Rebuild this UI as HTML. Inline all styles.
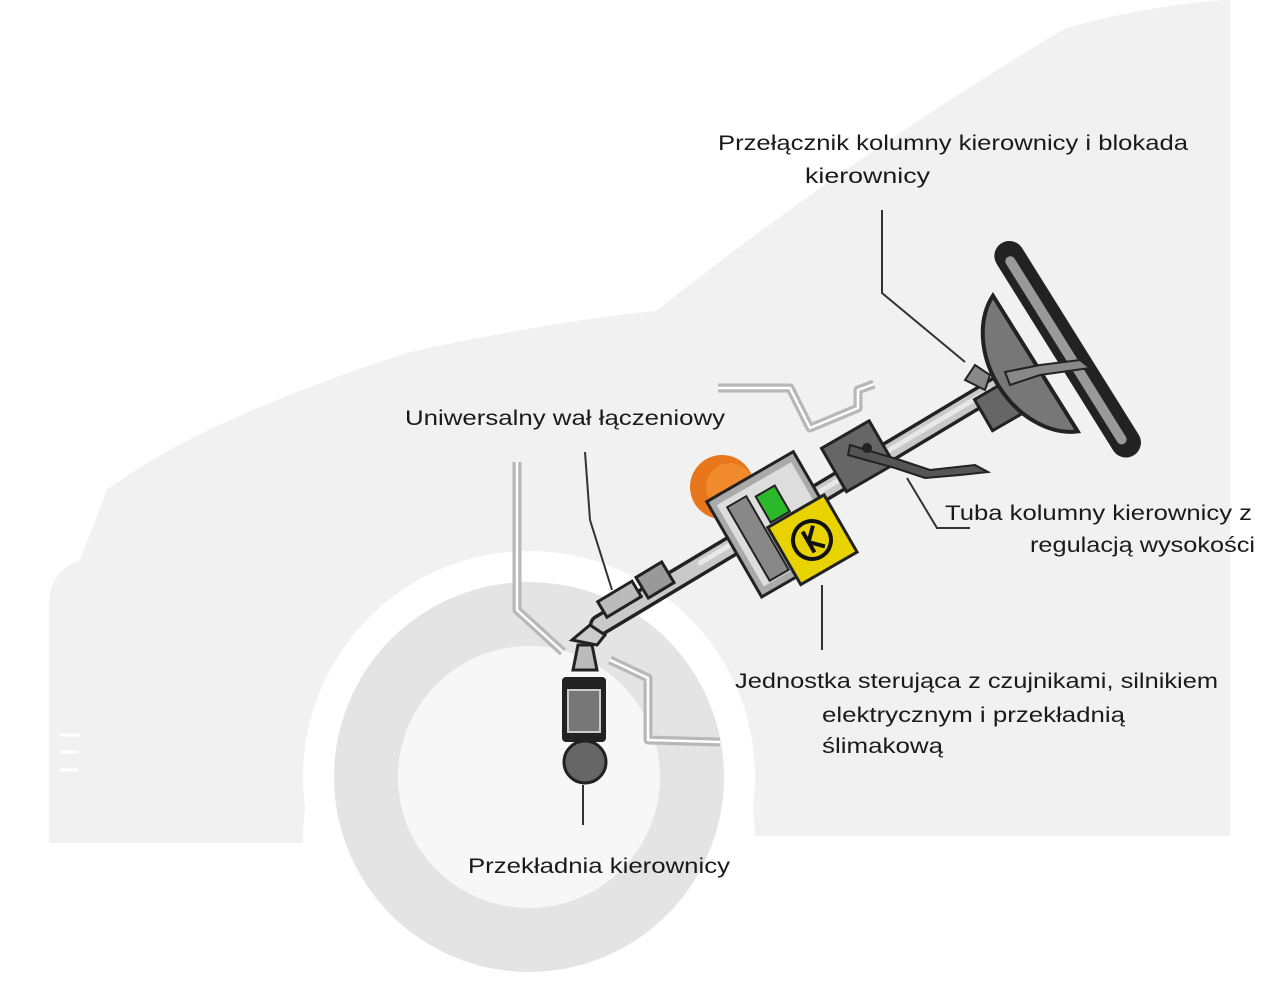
<!DOCTYPE html>
<html><head><meta charset="utf-8"><style>
html,body{margin:0;padding:0;background:#fff;}
svg{display:block}
text{font-family:"Liberation Sans",sans-serif;font-size:21px;fill:#1a1a1a;}
</style></head><body>
<svg width="1280" height="988" viewBox="0 0 1280 988" xmlns="http://www.w3.org/2000/svg">
<path d="M1225 0 L1230 0 L1230 836 L755 836 A226 226 0 0 0 303 843 L49 843 L49 600 Q52 570 80 560 L107 490 Q200 420 410 352 Q560 320 656 311 Q860 150 1066 28 Q1150 5 1225 0 Z" fill="#f1f1f1"/>
<circle cx="529" cy="777" r="226" fill="#fff"/>
<circle cx="529" cy="777" r="195" fill="#e4e4e4"/>
<circle cx="529" cy="777" r="131" fill="#f7f7f7"/>
<g stroke="#fff" stroke-width="3"><line x1="60" y1="735" x2="80" y2="735"/><line x1="60" y1="752" x2="78" y2="752"/><line x1="60" y1="770" x2="78" y2="770"/></g>
<g fill="none" stroke="#b8b8b8" stroke-width="9" stroke-linejoin="round">
<path d="M517 462 L517 610 L563 652"/>
<path d="M610 660 L648 678 L648 740 L720 742"/>
<path d="M718 388 L790 388 L810 428 L858 408 L858 390 L874 384"/>
</g>
<g fill="none" stroke="#fff" stroke-width="2.5" stroke-linejoin="round">
<path d="M517 462 L517 610 L563 652"/>
<path d="M610 660 L648 678 L648 740 L720 742"/>
<path d="M718 388 L790 388 L810 428 L858 408 L858 390 L874 384"/>
</g>
<g stroke="#222" stroke-width="3" stroke-linecap="round">
<line x1="600" y1="625" x2="1000" y2="385" stroke-width="22"/>
<line x1="600" y1="625" x2="1000" y2="385" stroke="#c9c9c9" stroke-width="15"/>
<line x1="700" y1="563" x2="990" y2="390" stroke="#e8e8e8" stroke-width="5"/>
</g>
<g transform="rotate(-31 620 600)">
<rect x="600" y="590" width="40" height="18" fill="#bbb" stroke="#222" stroke-width="3"/>
</g>
<g transform="rotate(-31 655 580)">
<rect x="640" y="568" width="30" height="24" fill="#999" stroke="#222" stroke-width="3"/>
</g>
<path d="M572 640 L590 625 L605 635 L597 645 Z" fill="#ccc" stroke="#222" stroke-width="3"/>
<path d="M578 645 L592 645 L597 670 L573 670 Z" fill="#bbb" stroke="#222" stroke-width="3"/>
<rect x="562" y="677" width="44" height="65" rx="4" fill="#222"/>
<rect x="568" y="690" width="32" height="42" fill="#777" stroke="#ccc" stroke-width="2"/>
<circle cx="585" cy="762" r="21" fill="#666" stroke="#222" stroke-width="3"/>
<circle cx="722" cy="487" r="32" fill="#e8761a"/>
<circle cx="730" cy="487" r="24" fill="#f08a2c"/>
<g transform="rotate(-30 775 520)">
<rect x="725" y="470" width="100" height="110" fill="#aaa" stroke="#222" stroke-width="3"/>
<rect x="732" y="478" width="86" height="94" fill="#ddd"/>
<rect x="740" y="485" width="22" height="85" fill="#888" stroke="#222" stroke-width="2"/>
<rect x="770" y="490" width="22" height="30" fill="#2bb82b" stroke="#222" stroke-width="2"/>
</g>
<g transform="rotate(-30 812 540)">
<rect x="780" y="507" width="65" height="66" fill="#e8d200" stroke="#222" stroke-width="3"/>
<circle cx="812" cy="540" r="19" fill="#e8d200" stroke="#111" stroke-width="4"/>
<path d="M808 528 L808 552 M808 540 L820 528 M808 540 L820 552" stroke="#111" stroke-width="4" fill="none"/>
</g>
<g transform="rotate(-30 860 455)">
<rect x="830" y="430" width="55" height="50" fill="#666" stroke="#222" stroke-width="3"/>
</g>
<path d="M850 445 L900 460 L930 470 L975 465 L988 472 L960 475 L925 478 L895 468 L848 455 Z" fill="#555" stroke="#222" stroke-width="2"/>
<circle cx="867" cy="448" r="5" fill="#222"/>
<g transform="rotate(-30 995 405)">
<rect x="980" y="390" width="34" height="36" fill="#666" stroke="#222" stroke-width="3"/>
</g>
<path d="M965 380 L975 365 L990 375 L985 390 Z" fill="#888" stroke="#222" stroke-width="2"/>
<g transform="rotate(-32 1065 345)">
<path d="M1020 270 A65 85 0 0 0 1020 430 Z" fill="#777" stroke="#222" stroke-width="4" transform="translate(10 -5)"/>
<rect x="1050" y="225" width="30" height="250" rx="15" fill="#222"/>
<rect x="1058" y="240" width="10" height="220" rx="5" fill="#999"/>
</g>
<path d="M1005 372 L1040 365 L1080 360 L1090 368 L1040 375 L1010 385 Z" fill="#888" stroke="#222" stroke-width="2"/>
<g fill="none" stroke="#333" stroke-width="2">
<path d="M882 210 L882 293 L965 362"/>
<path d="M585 452 L590 520 L612 590"/>
<path d="M907 478 L937 528 L970 528"/>
<path d="M822 585 L822 650"/>
<path d="M583 785 L583 825"/>
</g>
<text x="718" y="150" textLength="470" lengthAdjust="spacingAndGlyphs">Przełącznik kolumny kierownicy i blokada</text>
<text x="805" y="183" textLength="125" lengthAdjust="spacingAndGlyphs">kierownicy</text>
<text x="405" y="425" textLength="320" lengthAdjust="spacingAndGlyphs">Uniwersalny wał łączeniowy</text>
<text x="945" y="520" textLength="307" lengthAdjust="spacingAndGlyphs">Tuba kolumny kierownicy z</text>
<text x="1030" y="552" textLength="225" lengthAdjust="spacingAndGlyphs">regulacją wysokości</text>
<text x="735" y="688" textLength="483" lengthAdjust="spacingAndGlyphs">Jednostka sterująca z czujnikami, silnikiem</text>
<text x="822" y="722" textLength="303" lengthAdjust="spacingAndGlyphs">elektrycznym i przekładnią</text>
<text x="822" y="753" textLength="121" lengthAdjust="spacingAndGlyphs">ślimakową</text>
<text x="468" y="873" textLength="262" lengthAdjust="spacingAndGlyphs">Przekładnia kierownicy</text>
</svg>
</body></html>
